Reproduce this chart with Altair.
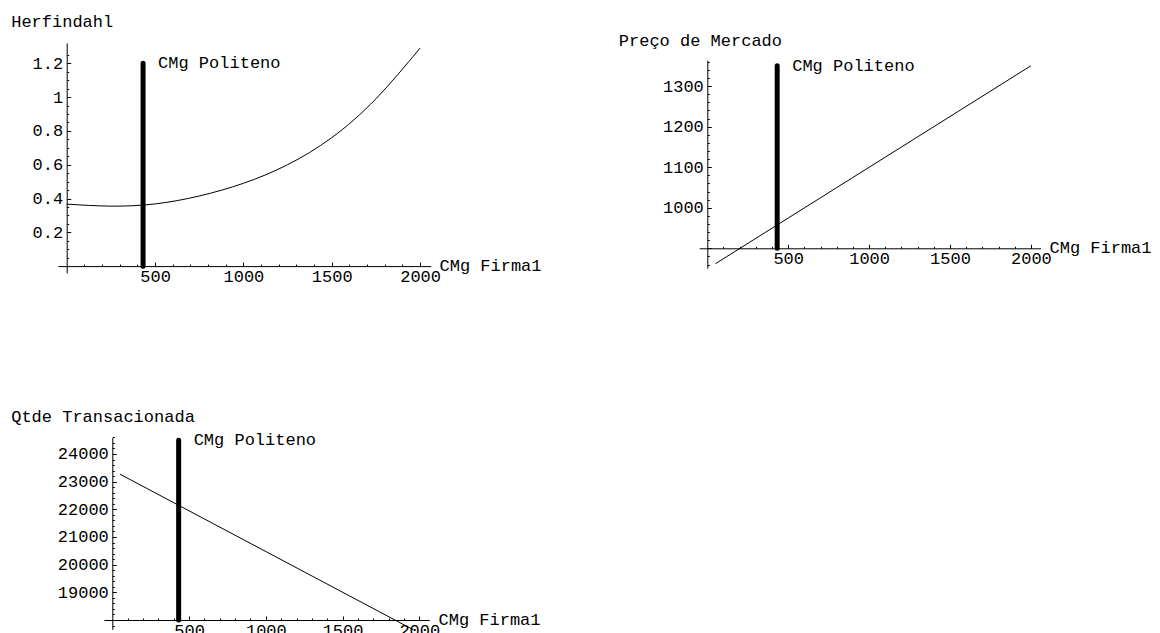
import altair as alt
import pandas as pd

FONT = "Courier New, Liberation Mono, monospace"
FS = 17
W, H = 1144, 625

# ---------------- data ----------------
herf_x = [0, 250, 500, 750, 1000, 1250, 1500, 1750, 2000]
herf_y = [0.367, 0.355, 0.368, 0.415, 0.49, 0.60, 0.76, 0.99, 1.29]

preco_x = [50, 2000]
preco_y = [862, 1350]

qtde_x = [50, 1960]
qtde_y = [23270, 17650]

cmg_politeno = 432
bar_base = [0, 900, 18000]
bar_top = [1.2, 1350, 24500]

bar_label = "CMg Politeno"
x_title = "CMg Firma1"
y_titles = ["Herfindahl", "Preço de Mercado", "Qtde Transacionada"]

x_major = [500, 1000, 1500, 2000]
x_minor = list(range(100, 2001, 100))

y_major = [
    [0.2, 0.4, 0.6, 0.8, 1, 1.2],
    [1000, 1100, 1200, 1300],
    [19000, 20000, 21000, 22000, 23000, 24000],
]
y_minor = [
    [round(0.05 * i, 2) for i in range(1, 26)],
    list(range(860, 1361, 20)),
    list(range(17800, 24601, 200)),
]
y_major_step = [0.2, 100, 1000]
y_format = ["~g", "d", "d"]


def cond_size(step, big, small):
    return {
        "condition": {
            "test": f"abs(datum.value/{step} - round(datum.value/{step})) < 1e-6",
            "value": big,
        },
        "value": small,
    }


def panel(i, xs, ys, xdom, xrange, ydom, yrange, ox, oy,
          ytitle_dx, ytitle_y, xtitle_x, interp="linear"):
    xsc = alt.Scale(domain=xdom, range=xrange, nice=False, zero=False)
    ysc = alt.Scale(domain=ydom, range=yrange, nice=False, zero=False)

    line_df = pd.DataFrame({"x": xs, "y": ys})
    line = alt.Chart(line_df).mark_line(
        color="black", strokeWidth=1, interpolate=interp
    ).encode(
        x=alt.X("x:Q", scale=xsc, axis=alt.Axis(
            orient="bottom", offset=oy - H, values=x_major, ticks=False,
            format="d",
            domain=True, domainColor="black", domainWidth=1, grid=False,
            labelFont=FONT, labelFontSize=FS, labelColor="black",
            labelPadding=2, labelFlush=False, labelOverlap=False,
            title=x_title, titleX=xtitle_x, titleY=4, titleAlign="left",
            titleBaseline="alphabetic", titleAngle=0, titleFont=FONT,
            titleFontSize=FS, titleFontWeight="normal", titleColor="black")),
        y=alt.Y("y:Q", scale=ysc, axis=alt.Axis(
            orient="left", offset=-ox, values=y_major[i], ticks=False,
            format=y_format[i],
            domain=True, domainColor="black", domainWidth=1, grid=False,
            labelFont=FONT, labelFontSize=FS, labelColor="black",
            labelPadding=4, labelFlush=False, labelOverlap=False,
            title=y_titles[i], titleX=ytitle_dx, titleY=ytitle_y,
            titleAlign="left", titleBaseline="alphabetic", titleAngle=0,
            titleFont=FONT, titleFontSize=FS, titleFontWeight="normal",
            titleColor="black")),
    )

    bar_df = pd.DataFrame({"x": [cmg_politeno], "y": [bar_base[i]], "y2": [bar_top[i]]})
    bar = alt.Chart(bar_df).mark_rule(
        color="black", strokeWidth=5, strokeCap="round"
    ).encode(
        x=alt.X("x:Q", scale=xsc, axis=alt.Axis(
            orient="top", offset=-oy, values=x_minor, labels=False,
            domain=False, grid=False, title=None, tickColor="black",
            tickWidth=1, tickSize=cond_size(500, 4, 2))),
        y=alt.Y("y:Q", scale=ysc, axis=alt.Axis(
            orient="right", offset=ox - W, values=y_minor[i], labels=False,
            domain=False, grid=False, title=None, tickColor="black",
            tickWidth=1, tickSize=cond_size(y_major_step[i], 4, 2))),
        y2="y2:Q",
    )

    txt_df = pd.DataFrame({"x": [cmg_politeno], "y": [bar_top[i]], "t": [bar_label]})
    txt = alt.Chart(txt_df).mark_text(
        align="left", baseline="middle", dx=15, font=FONT, fontSize=FS,
        color="black"
    ).encode(
        x=alt.X("x:Q", scale=xsc, axis=None),
        y=alt.Y("y:Q", scale=ysc, axis=None),
        text="t:N",
    )
    return [line, bar, txt]


layers = []
layers += panel(0, herf_x, herf_y, [-50, 2060], [49.9, 422.7], [-0.04, 1.32],
                [264.9, 35.0], 58.7, 258.1, -56, 18.7, 431, interp="natural")
layers += panel(1, preco_x, preco_y, [-50, 2060], [691.2, 1032.6], [851, 1364],
                [260.2, 52.1], 699.3, 240.3, -89, 37, 1041)
layers += panel(2, qtde_x, qtde_y, [-55, 2065], [95.9, 421.3], [17660, 24600],
                [621.4, 429.4], 104.3, 612, -101.6, 413.7, 430)

chart = alt.layer(*layers).resolve_scale(
    x="independent", y="independent"
).resolve_axis(
    x="independent", y="independent"
).properties(
    width=W, height=H, autosize=alt.AutoSizeParams(type="none"), padding=0,
    background="white"
).configure_view(stroke=None)

chart.save("out.html", embed_options={"renderer": "svg", "actions": False})
